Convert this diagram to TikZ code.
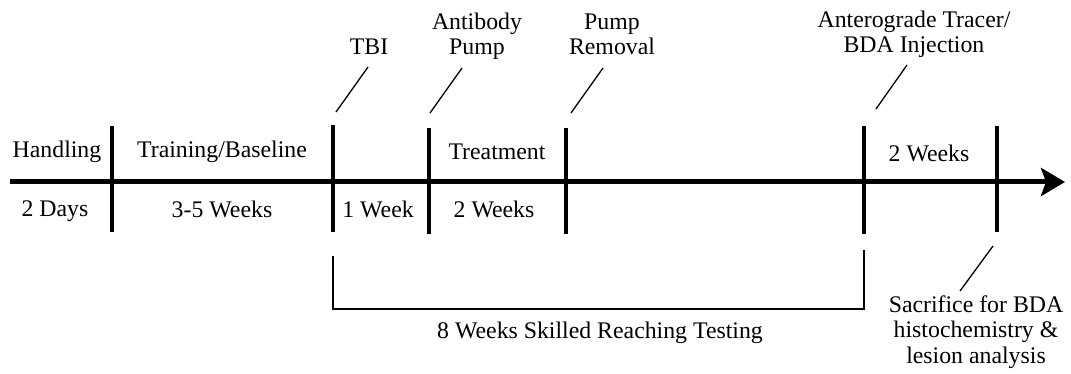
\documentclass[tikz,border=0pt]{standalone}
\usepackage{fontspec}
\setmainfont{Liberation Serif}
\usetikzlibrary{arrows.meta}
\begin{document}
\begin{tikzpicture}[x=1pt,y=-1pt,
  lbl/.style={font=\fontsize{23.8}{25.5}\selectfont, inner sep=0pt, anchor=base, align=center},
  tickmark/.style={line width=4.5pt},
  pointer/.style={line width=1.3pt},
  bracket/.style={line width=1.3pt},
  axis/.style={line width=5pt, -{Stealth[length=24pt,width=28pt,inset=5pt]}}]
\useasboundingbox (0,0) rectangle (1071,374);
% axis
\coordinate (a0) at (10,182);
\coordinate (a1) at (1065,182);
\draw[axis] (a0) -- (a1);
% ticks
\foreach \n/\x/\ya/\yb in {1/112/126/232, 2/333/125/232, 3/429/128/234, 4/566/128/234, 5/864/126/234, 6/997/126/232}{
  \coordinate (t\n top) at (\x,\ya);
  \coordinate (t\n bot) at (\x,\yb);
  \draw[tickmark] (t\n top) -- (t\n bot);
}
% labels on the axis
\node[lbl] (handling) at (57,158) {Handling};
\node[lbl] (days) at (55,217) {2 Days};
\node[lbl] (training) at (222,158) {Training/Baseline};
\node[lbl] (threefive) at (222,218) {3-5 Weeks};
\node[lbl] (treatment) at (497,160) {Treatment};
\node[lbl] (oneweek) at (378,218) {1 Week};
\node[lbl] (twoweeks) at (494,218) {2 Weeks};
\node[lbl] (twoweeksb) at (929,162) {2 Weeks};
% event labels (base = baseline of last line)
\node[lbl] (tbi) at (369,55) {TBI};
\node[lbl] (antibody) at (477,55) {Antibody\\Pump};
\node[lbl] (pumprem) at (612,55) {Pump\\Removal};
\node[lbl] (antero) at (914,53) {Anterograde Tracer/\\BDA Injection};
\node[lbl] (sacrifice) at (976,363) {Sacrifice for BDA\\histochemistry \&\\lesion analysis};
% pointers
\coordinate (p1a) at (336,112); \coordinate (p1b) at (368,67);
\coordinate (p2a) at (430,113); \coordinate (p2b) at (462,68);
\coordinate (p3a) at (571,113); \coordinate (p3b) at (603,68);
\coordinate (p4a) at (876,109); \coordinate (p4b) at (907,65);
\coordinate (p5a) at (960,291); \coordinate (p5b) at (993,246);
\draw[pointer] (p1a) -- (p1b);
\draw[pointer] (p2a) -- (p2b);
\draw[pointer] (p3a) -- (p3b);
\draw[pointer] (p4a) -- (p4b);
\draw[pointer] (p5a) -- (p5b);
% bracket
\coordinate (b0) at (333,256);
\coordinate (b1) at (333,309);
\coordinate (b2) at (864,309);
\coordinate (b3) at (864,250);
\draw[bracket] (b0) -- (b1) -- (b2) -- (b3);
\node[lbl] (testing) at (600,338) {8 Weeks Skilled Reaching Testing};
\end{tikzpicture}
\end{document}
